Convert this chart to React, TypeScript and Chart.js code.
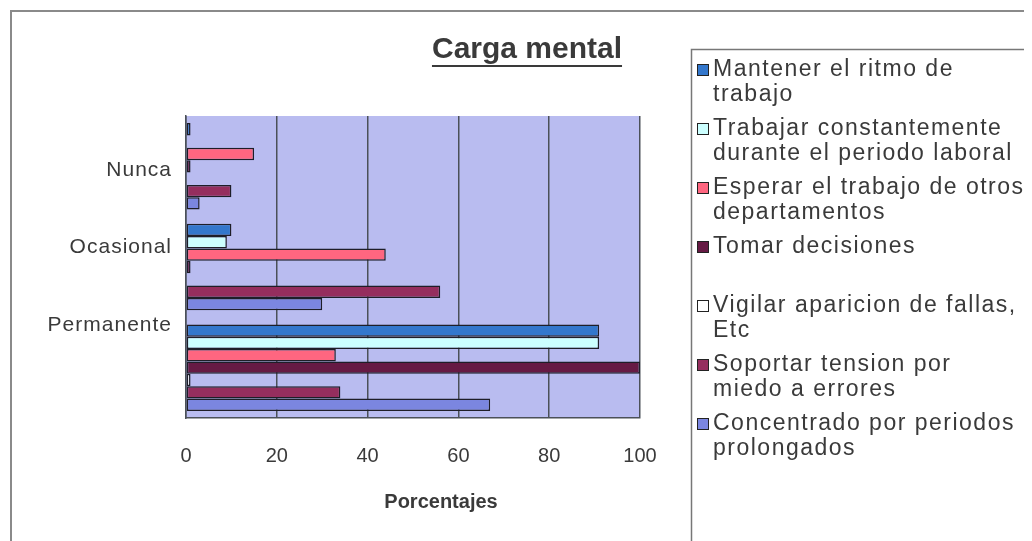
import React, { useEffect, useRef } from "react";
import { Chart, registerables } from "chart.js";

Chart.register(...registerables);

const TITLE = "Carga mental";
const X_TITLE = "Porcentajes";
const CATEGORIES = ["Nunca", "Ocasional", "Permanente"];
const X_TICKS = [0, 20, 40, 60, 80, 100];

const SERIES_LINES: string[][] = [
  ["Mantener el ritmo de", "trabajo"],
  ["Trabajar constantemente", "durante el periodo laboral"],
  ["Esperar el trabajo de otros", "departamentos"],
  ["Tomar decisiones", ""],
  ["Vigilar aparicion de fallas,", "Etc"],
  ["Soportar tension por", "miedo a errores"],
  ["Concentrado por periodos", "prolongados"],
];

const MANTENER = [1, 10, 91];
const TRABAJAR = [0, 9, 91];
const ESPERAR = [15, 44, 33];
const TOMAR = [1, 1, 100];
const VIGILAR = [0, 0, 1];
const SOPORTAR = [10, 56, 34];
const CONCENTRADO = [3, 30, 67];

const SERIES_VALUES = [MANTENER, TRABAJAR, ESPERAR, TOMAR, VIGILAR, SOPORTAR, CONCENTRADO];
const SERIES_COLORS = ["#3377cc", "#ccffff", "#ff6680", "#661a44", "#ffffff", "#952e5e", "#7b86e0"];

const FONT = "'Liberation Sans', Arial, sans-serif";
const TEXT = "#3a3a3a";
const GRID = "#4b5058";

export default function App() {
  const ref = useRef<HTMLCanvasElement>(null);

  useEffect(() => {
    const canvas = ref.current!;
    const decor = {
      id: "decor",
      beforeDraw(chart: any) {
        const { ctx, chartArea: a } = chart;
        ctx.save();
        ctx.fillStyle = "#ffffff";
        ctx.fillRect(0, 0, chart.width, chart.height);
        ctx.fillStyle = "#b9bcf0";
        ctx.fillRect(a.left, a.top, a.right - a.left, a.bottom - a.top);
        ctx.restore();
      },
      afterDraw(chart: any) {
        const { ctx, chartArea: a } = chart;
        ctx.save();
        // outer border
        ctx.strokeStyle = "#8a8a8a";
        ctx.lineWidth = 2;
        ctx.strokeRect(3, 3, 1200, 700);

        // title
        ctx.fillStyle = TEXT;
        ctx.font = `bold 30px ${FONT}`;
        ctx.textAlign = "center";
        ctx.textBaseline = "middle";
        const tx = 519, ty = 42;
        ctx.fillText(TITLE, tx, ty);
        const tw = ctx.measureText(TITLE).width;
        ctx.strokeStyle = TEXT;
        ctx.lineWidth = 2;
        ctx.beginPath();
        ctx.moveTo(tx - tw / 2, ty + 16);
        ctx.lineTo(tx + tw / 2, ty + 16);
        ctx.stroke();

        // x axis title
        ctx.font = `bold 20px ${FONT}`;
        ctx.fillText(X_TITLE, 433, 494);

        // category labels
        ctx.font = `21px ${FONT}`;
        (ctx as any).letterSpacing = "1px";
        ctx.textAlign = "right";
        const h = a.bottom - a.top;
        CATEGORIES.forEach((c, i) => {
          ctx.fillText(c, a.left - 14, a.top + h * (0.179 + 0.2567 * i));
        });

        // legend box
        ctx.strokeStyle = "#777777";
        ctx.lineWidth = 1.5;
        ctx.strokeRect(683.5, 41.5, 500, 600);
        ctx.font = `23px ${FONT}`;
        (ctx as any).letterSpacing = "1.5px";
        ctx.textAlign = "left";
        let y = 62;
        const lh = 25;
        SERIES_LINES.forEach((lines, i) => {
          ctx.fillStyle = SERIES_COLORS[i];
          ctx.fillRect(689, y - 6, 12, 12);
          ctx.strokeStyle = "#222222";
          ctx.lineWidth = 1;
          ctx.strokeRect(689.5, y - 5.5, 11, 11);
          ctx.fillStyle = TEXT;
          lines.forEach((ln, k) => {
            ctx.fillText(ln, 705, y + k * lh);
          });
          y += lines.length * lh + 9;
        });
        ctx.restore();
      },
    };

    const chart = new Chart(canvas, {
      type: "bar",
      data: {
        labels: CATEGORIES,
        datasets: SERIES_LINES.map((lines, i) => ({
          label: lines.join(" ").trim(),
          data: SERIES_VALUES[i],
          backgroundColor: SERIES_COLORS[i],
          borderColor: "#1e1e28",
          borderWidth: 1.5,
          borderSkipped: false,
          barPercentage: 1.0,
          categoryPercentage: 0.86,
        })),
      },
      options: {
        indexAxis: "y",
        responsive: false,
        animation: false,
        layout: { padding: { left: 170, right: 392, top: 108, bottom: 47 } },
        plugins: {
          legend: { display: false },
          title: { display: false },
          tooltip: { enabled: false },
        },
        scales: {
          x: {
            min: 0,
            max: 100,
            afterBuildTicks: (s: any) => {
              s.ticks = X_TICKS.map((v) => ({ value: v }));
            },
            ticks: { color: TEXT, font: { family: FONT, size: 20 }, padding: 26 },
            grid: { color: GRID, lineWidth: 1.5, drawTicks: false },
            border: { color: GRID, width: 1.5 },
          },
          y: {
            ticks: { display: false },
            grid: { display: false },
            border: { color: GRID, width: 1.5 },
          },
        },
      },
      plugins: [decor],
    } as any);
    return () => chart.destroy();
  }, []);

  return (
    <div style={{ width: 1024, height: 533 }}>
      <canvas ref={ref} width={1024} height={533} style={{ display: "block" }} />
    </div>
  );
}
